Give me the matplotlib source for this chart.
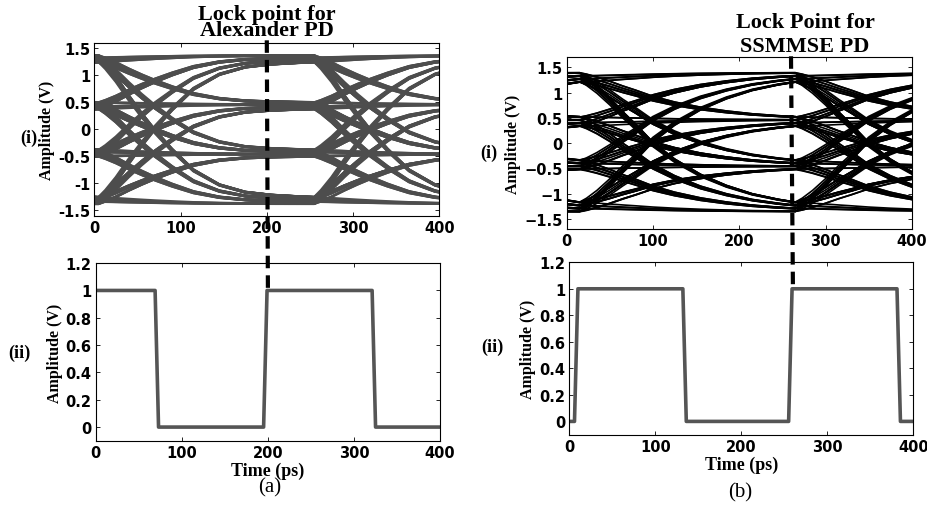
import numpy as np
import matplotlib.pyplot as plt
from matplotlib.lines import Line2D

# PAM-4 levels (V) for the two receivers
levels_a = [-1.38, -0.46, 0.46, 1.37]
levels_b = [-1.36, -0.46, 0.46, 1.40]

# transmitted symbol indices
symbols = [0, 0, 1, 0, 2, 0, 3, 1, 1, 2, 1, 3, 2, 2, 3, 3,
           0, 3, 0, 1, 2, 3, 2, 1, 0, 2, 3, 1, 0, 0, 2, 2,
           1, 1, 3, 0, 1, 3, 3, 2, 0, 3, 2, 3, 1, 2, 0, 1,
           1, 0, 0, 3, 3, 1, 2, 2, 0, 2, 1, 1, 3, 2, 3, 0,
           2, 1, 0, 3, 1, 1, 0, 2, 3, 3, 2, 0, 0, 1, 3, 2,
           1, 2, 2, 3, 0, 0, 3, 1, 3, 0, 2, 1, 2, 0, 1, 2,
           3, 2, 2, 0, 1, 0, 3, 3, 0, 1, 1, 3, 1, 0, 2, 3,
           0, 2, 0, 0, 1, 2, 1, 0, 3, 2, 1, 3, 3, 0, 1, 1]

period = 250  # ps
# fraction of a level step reached vs time after the symbol edge
tau_ps = [0, 8, 20, 35, 50, 65, 85, 110, 140, 170, 200, 230, 250]
step_a = [0, 0.05, 0.14, 0.27, 0.39, 0.50, 0.63, 0.77, 0.87, 0.92, 0.94, 0.95, 0.955]
step_b = [0, 0.03, 0.09, 0.18, 0.28, 0.37, 0.50, 0.62, 0.73, 0.81, 0.87, 0.91, 0.93]
edge_a = 5
edge_b = 15

# recovered clock
clk_t_a = [0, 69, 73, 195, 199, 321, 325, 400]
clk_v_a = [1, 1, 0, 0, 1, 1, 0, 0]
clk_t_b = [0, 6, 10, 132, 136, 255, 259, 381, 385, 400]
clk_v_b = [0, 0, 1, 1, 0, 0, 1, 1, 0, 0]

lock_a = 200
lock_b = 260

plt.rcParams['font.family'] = 'DejaVu Sans'
serif = 'Liberation Serif'


def waveform(levels, step):
    tau = np.array(tau_ps, dtype=float)
    prof = np.array(step)
    t_all, y_all = [], []
    y_end = levels[symbols[0]]
    for k in range(1, len(symbols)):
        target = levels[symbols[k]]
        seg = y_end + (target - y_end) * prof
        t_all.extend(k * period + tau[:-1])
        y_all.extend(seg[:-1])
        y_end = seg[-1]
    return np.array(t_all), np.array(y_all)


def eye(ax, levels, step, edge, color, lw):
    t, y = waveform(levels, step)
    for k in range(2, len(symbols) - 2):
        start = k * period - edge
        m = (t >= start - 40) & (t <= start + 440)
        ax.plot(t[m] - start, y[m], color=color, lw=lw, solid_joinstyle='round')


def style(ax, yticks, ylabels):
    ax.set_xlim(0, 400)
    ax.set_xticks([0, 100, 200, 300, 400])
    ax.set_yticks(yticks)
    ax.set_yticklabels(ylabels)
    ax.tick_params(direction='in', top=True, right=True, length=3, width=0.6,
                   labelsize=10.5, pad=3)
    for lab in ax.get_xticklabels() + ax.get_yticklabels():
        lab.set_fontweight('bold')
    for s in ax.spines.values():
        s.set_linewidth(0.8)
    ax.set_ylabel('Amplitude (V)', family=serif, fontweight='bold', fontsize=11.5,
                  labelpad=2)


fig = plt.figure(figsize=(9.28, 5.06), dpi=100)

eye_ticks = [-1.5, -1, -0.5, 0, 0.5, 1, 1.5]
clk_ticks = [0, 0.2, 0.4, 0.6, 0.8, 1, 1.2]
clk_labels = ['0', '0.2', '0.4', '0.6', '0.8', '1', '1.2']

# (a) Alexander PD
ax1 = fig.add_axes([0.1016, 0.5717, 0.3718, 0.3413])
eye(ax1, levels_a, step_a, edge_a, '#4d4d4d', 1.9)
ax1.set_ylim(-1.6, 1.6)
style(ax1, eye_ticks, ['-1.5', '-1', '-0.5', '0', '0.5', '1', '1.5'])

ax2 = fig.add_axes([0.1031, 0.127, 0.3712, 0.351])
ax2.plot(clk_t_a, clk_v_a, color='#555555', lw=2.6)
ax2.set_ylim(-0.1, 1.2)
style(ax2, clk_ticks, clk_labels)
ax2.set_xlabel('Time (ps)', family=serif, fontweight='bold', fontsize=13, labelpad=1)

# (b) SSMMSE PD
ax3 = fig.add_axes([0.6107, 0.5455, 0.3718, 0.3393])
eye(ax3, levels_b, step_b, edge_b, 'black', 1.2)
ax3.set_ylim(-1.7, 1.7)
style(ax3, eye_ticks, ['\u22121.5', '\u22121', '\u22120.5', '0', '0.5', '1', '1.5'])

ax4 = fig.add_axes([0.6135, 0.139, 0.3707, 0.3407])
ax4.plot(clk_t_b, clk_v_b, color='#555555', lw=2.6)
ax4.set_ylim(-0.1, 1.2)
style(ax4, clk_ticks, clk_labels)
ax4.set_xlabel('Time (ps)', family=serif, fontweight='bold', fontsize=13, labelpad=1)

# dashed lock markers running from the eye into the clock panel
to_fig = fig.transFigure.inverted()
for top, bot, x0, y_top in [(ax1, ax2, lock_a, 1.65), (ax3, ax4, lock_b, 1.72)]:
    p0 = to_fig.transform(top.transData.transform((x0, y_top)))
    p1 = to_fig.transform(bot.transData.transform((x0, 1.0)))
    fig.add_artist(Line2D([p0[0], p1[0]], [p0[1], p1[1]], transform=fig.transFigure,
                          color='black', lw=3, linestyle=(0, (3.0, 1.7)), zorder=5))

tkw = dict(family=serif, fontweight='bold', ha='center', va='center')
fig.text(267 / 928, 1 - 23 / 506, 'Lock point for\nAlexander PD', fontsize=16,
         linespacing=0.78, **tkw)
fig.text(805 / 928, 1 - 35 / 506, 'Lock Point for\nSSMMSE PD', fontsize=16,
         linespacing=1.3, **tkw)

fig.text(29 / 928, 1 - 138 / 506, '(i)', fontsize=13, **tkw)
fig.text(19 / 928, 1 - 353 / 506, '(ii)', fontsize=13, **tkw)
fig.text(489 / 928, 1 - 153 / 506, '(i)', fontsize=13, **tkw)
fig.text(492 / 928, 1 - 347 / 506, '(ii)', fontsize=13, **tkw)

fig.text(270 / 928, 1 - 488 / 506, '(a)', family=serif, fontsize=15, ha='center', va='center')
fig.text(740 / 928, 1 - 493 / 506, '(b)', family=serif, fontsize=15, ha='center', va='center')

fig.savefig('out.png', dpi=100)
